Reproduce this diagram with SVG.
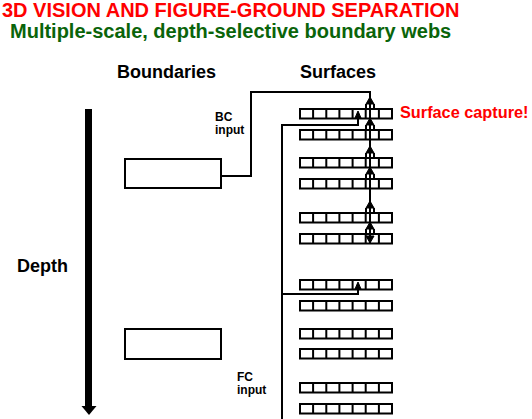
<svg xmlns="http://www.w3.org/2000/svg" xmlns:xlink="http://www.w3.org/1999/xlink" width="532" height="419" viewBox="0 0 532 419">
<style>
  text { font-family: "Liberation Sans", Arial, sans-serif; font-weight: bold; }
  .title { fill: #ff0000; font-size: 20px; }
  .sub { fill: #0a640a; font-size: 20px; }
  .hdr { fill: #000; font-size: 18px; }
  .lbl { fill: #000; font-size: 12px; }
  .cap { fill: #ff0000; font-size: 16.3px; }
  .box { fill: #fff; stroke: #000; stroke-width: 2; }
  .cell { fill: #fff; stroke: #000; stroke-width: 2; }
  .wire { fill: none; stroke: #000; stroke-width: 2; }
  .head { fill: #000; stroke: #000; stroke-width: 1; }
</style>
<defs>
  <g id="cells">
    <rect class="cell" x="300" y="0" width="92" height="9.5"/>
    <path class="wire" d="M313.1,0V9.5M326.3,0V9.5M339.4,0V9.5M352.6,0V9.5M365.7,0V9.5M378.9,0V9.5"/>
  </g>
  <g id="upHead">
    <path class="head" d="M370,-12L366,-5L374,-5Z"/>
    <path class="wire" d="M366,-5V0M374,-5V0" stroke-width="1.5"/>
  </g>
</defs>
<rect width="532" height="419" fill="#fff"/>

<text class="title" x="2" y="17">3D VISION AND FIGURE-GROUND SEPARATION</text>
<text class="sub" x="10" y="38">Multiple-scale, depth-selective boundary webs</text>
<text class="hdr" x="117" y="78">Boundaries</text>
<text class="hdr" x="300" y="78">Surfaces</text>
<text class="hdr" x="17" y="272" font-size="18.5">Depth</text>
<text class="cap" x="400" y="118">Surface capture!</text>
<text class="lbl" x="215" y="121">BC</text>
<text class="lbl" x="215" y="134">input</text>
<text class="lbl" x="237" y="381">FC</text>
<text class="lbl" x="237" y="394">input</text>

<g id="depth-arrow">
  <rect x="85" y="109" width="7" height="298" fill="#000"/>
  <path d="M81.5,406L96.5,406L89,415Z" fill="#000"/>
</g>

<g id="boundary-1"><rect class="box" x="125" y="159" width="96" height="29"/></g>
<g id="boundary-2"><rect class="box" x="125" y="329" width="96" height="30"/></g>

<g id="surface-1"><use xlink:href="#cells" y="109"/></g>
<g id="surface-2"><use xlink:href="#cells" y="130"/></g>
<g id="surface-3"><use xlink:href="#cells" y="158"/></g>
<g id="surface-4"><use xlink:href="#cells" y="179"/></g>
<g id="surface-5"><use xlink:href="#cells" y="213"/></g>
<g id="surface-6"><use xlink:href="#cells" y="234"/></g>
<g id="surface-7"><use xlink:href="#cells" y="280"/></g>
<g id="surface-8"><use xlink:href="#cells" y="301"/></g>
<g id="surface-9"><use xlink:href="#cells" y="329"/></g>
<g id="surface-10"><use xlink:href="#cells" y="349"/></g>
<g id="surface-11"><use xlink:href="#cells" y="383"/></g>
<g id="surface-12"><use xlink:href="#cells" y="404"/></g>

<g id="connectors">
  <path class="wire" d="M221,176H251V92H370V243"/>
  <use xlink:href="#upHead" y="109"/>
  <use xlink:href="#upHead" y="130"/>
  <use xlink:href="#upHead" y="158"/>
  <use xlink:href="#upHead" y="179"/>
  <use xlink:href="#upHead" y="213"/>
  <use xlink:href="#upHead" y="234"/>
  <path class="head" d="M370,243L366,236L374,236Z"/>
  <path class="wire" d="M282,419V125H358V116"/>
  <path class="head" d="M358,111L355,118L361,118Z"/>
  <path class="wire" d="M282,294H358V287"/>
  <path class="head" d="M358,282L355,289L361,289Z"/>
</g>
</svg>
